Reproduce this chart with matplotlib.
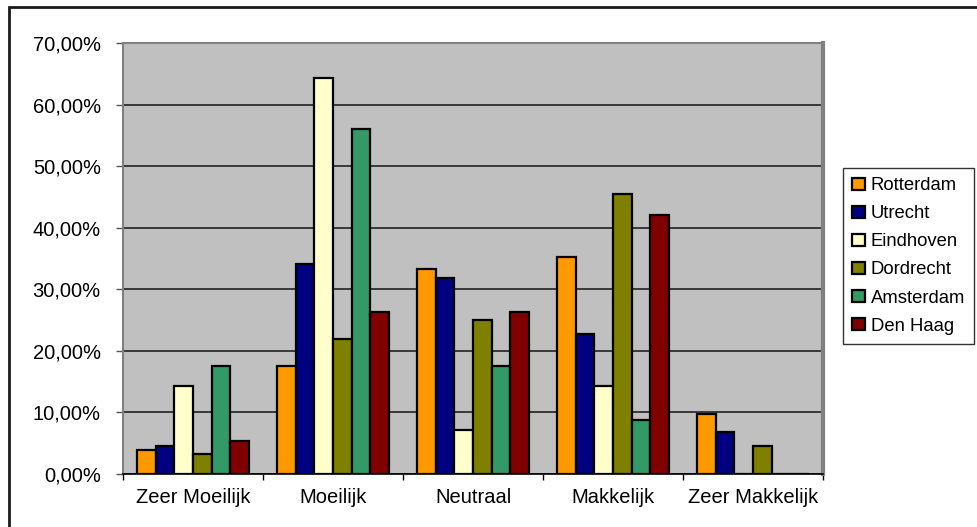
import numpy as np
import matplotlib.pyplot as plt
from matplotlib.patches import Rectangle
from matplotlib.ticker import FuncFormatter

plt.rcParams['font.family'] = ['Liberation Sans', 'DejaVu Sans']

categories = ['Zeer Moeilijk', 'Moeilijk', 'Neutraal', 'Makkelijk', 'Zeer Makkelijk']
cities = ['Rotterdam', 'Utrecht', 'Eindhoven', 'Dordrecht', 'Amsterdam', 'Den Haag']

rotterdam = [3.9, 17.5, 33.3, 35.3, 9.8]
utrecht = [4.5, 34.1, 31.8, 22.7, 6.8]
eindhoven = [14.3, 64.3, 7.1, 14.3, 0.0]
dordrecht = [3.2, 21.9, 25.0, 45.4, 4.6]
amsterdam = [17.5, 56.0, 17.5, 8.8, 0.0]
den_haag = [5.4, 26.3, 26.3, 42.1, 0.0]

series = [rotterdam, utrecht, eindhoven, dordrecht, amsterdam, den_haag]
colors = ['#FF9900', '#000080', '#FFFFCC', '#808000', '#339966', '#800000']

fig = plt.figure(figsize=(9.78, 5.27), dpi=100)
ax = fig.add_axes([0.1258, 0.1006, 0.8415 - 0.1258, 0.9184 - 0.1006])

# outer chart frame (only top and left edges fall inside the image)
fig.patches.append(Rectangle((9 / 978, -0.1), 1.2, 1 - 7 / 527 + 0.1,
                             transform=fig.transFigure, fill=False,
                             edgecolor='#1a1a1a', linewidth=2))

ax.set_facecolor('#C0C0C0')
n = len(series)
width = 1.0 / (n + 1.5)
x = np.arange(len(categories))
for i, (vals, col, name) in enumerate(zip(series, colors, cities)):
    offs = (i - (n - 1) / 2) * width
    ax.bar(x + offs, vals, width, color=col, edgecolor='black', linewidth=1.6,
           label=name, zorder=3)

ax.set_xlim(-0.5, len(categories) - 0.5)
ax.set_ylim(0, 70)
ax.set_yticks(np.arange(0, 71, 10))
ax.yaxis.set_major_formatter(FuncFormatter(lambda v, p: f'{v:.2f}%'.replace('.', ',')))
ax.yaxis.grid(True, color='#222222', linewidth=1.2, zorder=1)
ax.set_axisbelow(True)

ax.set_xticks(x)
ax.set_xticklabels(categories)
ax.set_xticks(np.arange(-0.5, len(categories)), minor=True)
ax.tick_params(axis='x', which='major', length=0, pad=10, labelsize=14.5)
ax.tick_params(axis='x', which='minor', length=4.5, color='black', width=1)
ax.tick_params(axis='y', length=5, color='#555555', width=1, labelsize=14.5, pad=11)

for side in ['left', 'top', 'right']:
    ax.spines[side].set_color('#808080')
    ax.spines[side].set_linewidth(1.5)
ax.spines['right'].set_linewidth(3)
ax.spines['bottom'].set_color('black')
ax.spines['bottom'].set_linewidth(1.2)

leg = fig.legend(loc='upper left', bbox_to_anchor=(843 / 978, 1 - 168 / 527),
                 fontsize=13.3, frameon=True, fancybox=False, handlelength=0.7,
                 handleheight=0.6, handletextpad=0.3, labelspacing=0.6,
                 borderpad=0.5, borderaxespad=0)
leg.get_frame().set_edgecolor('black')
leg.get_frame().set_linewidth(1)

fig.savefig('out.png', dpi=100)
